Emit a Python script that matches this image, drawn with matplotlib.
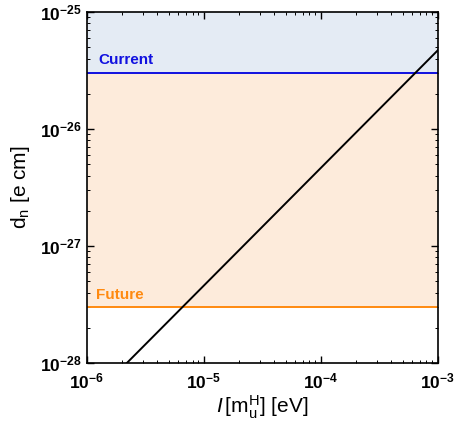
import numpy as np
from matplotlib import pyplot as plt
from matplotlib.ticker import LogLocator, NullFormatter, FuncFormatter

plt.rcParams['font.family'] = ['Liberation Sans', 'DejaVu Sans']
plt.rcParams['mathtext.fontset'] = 'custom'
plt.rcParams['mathtext.rm'] = 'Liberation Sans'
plt.rcParams['mathtext.it'] = 'Liberation Sans:italic'
plt.rcParams['mathtext.bf'] = 'Liberation Sans:bold'

# data
x_line = [2.2e-6, 1e-3]
dn_line = [1e-28, 4.7e-26]
current_limit = 3e-26
future_limit = 3e-28
x_range = [1e-6, 1e-3]
y_range = [1e-28, 1e-25]

fig = plt.figure(figsize=(4.55, 4.3), dpi=100)
ax = fig.add_axes([0.191, 0.156, 0.771, 0.816])

ax.set_xscale('log')
ax.set_yscale('log')

ax.axhspan(current_limit, y_range[1], color='#e4ebf4', lw=0)
ax.axhspan(future_limit, current_limit, color='#fdebdb', lw=0)
ax.axhline(current_limit, color='#1010e0', lw=1.4)
ax.axhline(future_limit, color='#ff8a10', lw=1.4)

ax.plot(x_line, dn_line, color='black', lw=1.4)

ax.text(1.25e-6, 3.6e-26, 'Current', color='#1010e0', fontsize=11, fontweight='bold')
ax.text(1.2e-6, 3.5e-28, 'Future', color='#ff8a10', fontsize=11, fontweight='bold')

ax.set_xlabel(r'$\mathit{I}\,[\mathrm{m_u^H}]$ [eV]', fontsize=15, labelpad=2)
ax.set_ylabel(r'd$_\mathrm{n}$ [e cm]', fontsize=15, labelpad=6)


def pow_label(v, pos):
    return r'$\mathbf{10^{%d}}$' % int(round(np.log10(v)))


ax.xaxis.set_major_locator(LogLocator(base=10, numticks=10))
ax.yaxis.set_major_locator(LogLocator(base=10, numticks=10))
ax.xaxis.set_major_formatter(FuncFormatter(pow_label))
ax.yaxis.set_major_formatter(FuncFormatter(pow_label))
ax.xaxis.set_minor_locator(LogLocator(base=10, subs=np.arange(2, 10), numticks=20))
ax.yaxis.set_minor_locator(LogLocator(base=10, subs=np.arange(2, 10), numticks=20))
ax.xaxis.set_minor_formatter(NullFormatter())
ax.yaxis.set_minor_formatter(NullFormatter())
ax.tick_params(which='both', direction='in', top=True, right=True)
ax.tick_params(which='major', length=5, width=1, labelsize=12.5)
ax.tick_params(axis='x', which='major', pad=6)
ax.tick_params(which='minor', length=2.5, width=0.7)
ax.set_xlim(x_range)
ax.set_ylim(y_range)
for s in ax.spines.values():
    s.set_linewidth(1.2)

plt.savefig('out.png', dpi=100)
